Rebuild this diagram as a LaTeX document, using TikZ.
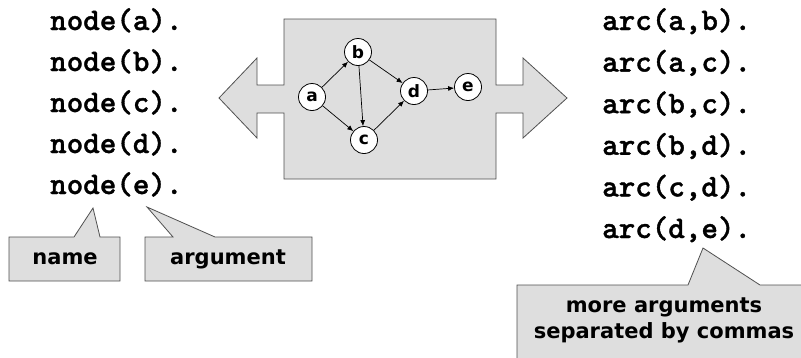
\documentclass[tikz,border=0pt]{standalone}
\usepackage{fontspec}
\setmainfont{DejaVu Sans}
\newfontfamily\codefont{lmmonolt10-bold}[Extension=.otf, FakeBold=1.2]
\usetikzlibrary{arrows.meta}
\definecolor{panel}{HTML}{DEDEDE}
\definecolor{edgegray}{HTML}{505050}
\tikzset{
  codetext/.style={anchor=base west, inner sep=0pt, font=\codefont\fontsize{31.5}{31.5}\selectfont},
  gnode/.style={circle, draw=black, fill=white, line width=0.8pt, minimum size=27pt, inner sep=0pt, font=\bfseries\fontsize{17}{17}\selectfont},
  garc/.style={-{Latex[length=6pt,width=5pt]}, line width=0.7pt},
  callout/.style={fill=panel, draw=edgegray, line width=0.8pt},
  calltext/.style={inner sep=0pt, font=\bfseries\fontsize{21}{26}\selectfont, align=center},
}
\begin{document}
\begin{tikzpicture}[x=1pt,y=-1pt]
\useasboundingbox (0,0) rectangle (801,357);
% central panel with double arrow
\path[fill=panel, draw=edgegray, line width=0.8pt]
  (284,19) -- (496,19) -- (496,85) -- (523,85) -- (523,58) -- (567,98) -- (523,138) -- (523,113) -- (496,113) -- (496,179) -- (284,179) -- (284,113) -- (257,113) -- (257,138) -- (219,98) -- (257,58) -- (257,85) -- (284,85) -- cycle;
% graph
\node[gnode] (a) at (312,97) {a};
\node[gnode] (b) at (358,52) {b};
\node[gnode] (c) at (364,140) {c};
\node[gnode] (d) at (414,91) {d};
\node[gnode] (e) at (468,87) {e};
\draw[garc] (a) -- (b);
\draw[garc] (a) -- (c);
\draw[garc] (b) -- (c);
\draw[garc] (b) -- (d);
\draw[garc] (c) -- (d);
\draw[garc] (d) -- (e);
% facts
\node[codetext] (na) at (50,30) {node(a).};
\node[codetext] (nb) at (50,71) {node(b).};
\node[codetext] (nc) at (50,112) {node(c).};
\node[codetext] (nd) at (50,153) {node(d).};
\node[codetext] (ne) at (50,194) {node(e).};
\node[codetext] (ab) at (602,30) {arc(a,b).};
\node[codetext] (ac) at (602,71.6) {arc(a,c).};
\node[codetext] (bc) at (602,113.2) {arc(b,c).};
\node[codetext] (bd) at (602,154.8) {arc(b,d).};
\node[codetext] (cd) at (602,196.4) {arc(c,d).};
\node[codetext] (de) at (602,238) {arc(d,e).};
% callouts
\path[callout] (9,237) -- (74,237) -- (93,208) -- (100,237) -- (120,237) -- (120,281) -- (9,281) -- cycle;
\node[calltext] (lname) at (65,259) {name};
\path[callout] (145,237) -- (173,237) -- (147,207) -- (215,237) -- (312,237) -- (312,281) -- (145,281) -- cycle;
\node[calltext] (larg) at (228,259) {argument};
\path[callout] (517,285) -- (688,285) -- (703,248) -- (760,285) -- (806,285) -- (806,362) -- (517,362) -- cycle;
\node[calltext] (lmore) at (664,320) {more arguments\\separated by commas};
\end{tikzpicture}
\end{document}
